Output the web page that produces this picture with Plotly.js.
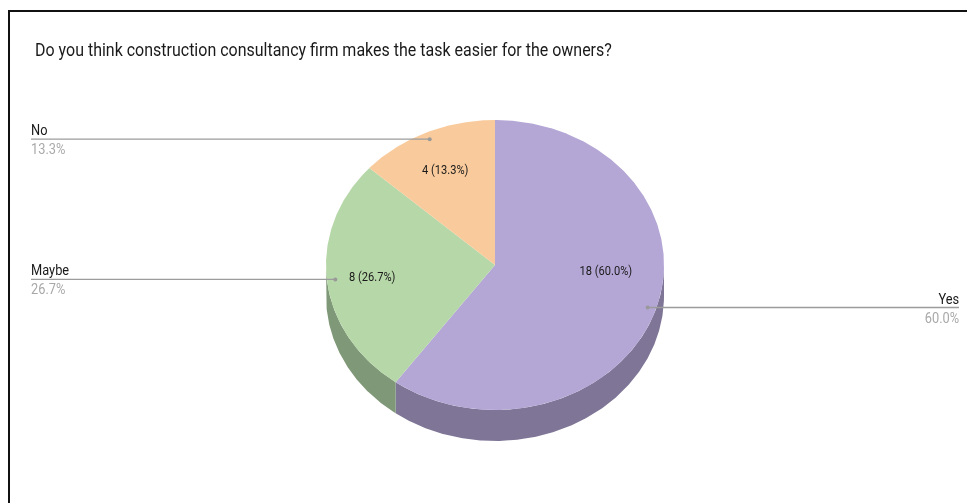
<!DOCTYPE html>
<html>
<head>
<meta charset="utf-8">
<script src="https://cdn.plot.ly/plotly-3.0.1.min.js"></script>
<style>html,body{margin:0;padding:0;background:#fff}#chart{width:967px;height:503px;filter:blur(0.35px)}</style>
</head>
<body>
<div id="chart"></div>
<script>
const categories = ["Yes", "Maybe", "No"];
const counts = [18, 8, 4];
const sliceColors = ["#b4a7d6", "#b6d7a8", "#f9cb9c"];
const sideColors = ["#7f7596", "#7f9877", "#ae8e6d"];
const titleText = "Do you think construction consultancy firm makes the task easier for the owners?";

// pie geometry, in axis units (the axes span the page)
const cx = 495, cy = 265, rx = 169, ry = 145, depth = 31;
const fontFam = "Roboto, sans-serif";
const total = counts.reduce((a, b) => a + b, 0);
const pct = v => (v / total * 100).toFixed(1) + "%";

const px = (a, r = 1) => cx + rx * r * Math.sin(a);
const py = (a, r = 1, dy = 0) => cy - ry * r * Math.cos(a) + dy;
function arc(a0, a1) {
  const n = Math.max(2, Math.ceil(Math.abs(a1 - a0) / (Math.PI / 360)));
  const out = [];
  for (let i = 0; i <= n; i++) out.push(a0 + (a1 - a0) * i / n);
  return out;
}

let start = 0;
const slices = counts.map((v, i) => {
  const a0 = start, a1 = start + v / total * 2 * Math.PI;
  start = a1;
  return { i, a0, a1, mid: (a0 + a1) / 2 };
});

const traces = [];
// visible side walls (front half of the rim)
slices.forEach(s => {
  const lo = Math.max(s.a0, Math.PI / 2), hi = Math.min(s.a1, 1.5 * Math.PI);
  if (hi <= lo) return;
  const top = arc(lo, hi), bot = arc(hi, lo);
  traces.push({
    type: "scatter", mode: "lines", fill: "toself", fillcolor: sideColors[s.i],
    line: { width: 0, color: sideColors[s.i] }, hoverinfo: "skip", showlegend: false,
    x: top.map(a => px(a)).concat(bot.map(a => px(a))),
    y: top.map(a => py(a)).concat(bot.map(a => py(a, 1, depth)))
  });
});
// top faces
slices.forEach(s => {
  const t = arc(s.a0, s.a1);
  traces.push({
    type: "scatter", mode: "lines", fill: "toself", fillcolor: sliceColors[s.i],
    line: { width: 0, color: sliceColors[s.i] }, name: categories[s.i],
    text: counts[s.i] + " (" + pct(counts[s.i]) + ")", hoverinfo: "name+text", showlegend: false,
    x: [cx].concat(t.map(a => px(a)), [cx]),
    y: [cy].concat(t.map(a => py(a)), [cy])
  });
});

// leader lines: from the slice out to the margin
const leaderEndX = [959, 31, 31];
slices.forEach(s => {
  const x0 = px(s.mid, 0.95), y0 = py(s.mid, 0.95);
  traces.push({
    type: "scatter", mode: "lines", line: { color: "#9c9c9c", width: 1.4 },
    hoverinfo: "skip", showlegend: false,
    x: [x0, leaderEndX[s.i]], y: [y0, y0]
  });
  traces.push({
    type: "scatter", mode: "markers", marker: { color: "#999999", size: 4 },
    hoverinfo: "skip", showlegend: false, x: [x0], y: [y0]
  });
});

const dataLabelX = [606, 372, 445], dataLabelY = [270, 276, 169];
const annotations = [];
slices.forEach(s => {
  const y0 = py(s.mid, 0.95), right = s.i === 0, lx = leaderEndX[s.i];
  annotations.push({
    x: dataLabelX[s.i], y: dataLabelY[s.i], xref: "x", yref: "y", showarrow: false,
    text: counts[s.i] + " (" + pct(counts[s.i]) + ")",
    font: { family: fontFam, size: 13, color: "#1a1a1a" }
  });
  annotations.push({
    x: lx, y: y0 - 9, xref: "x", yref: "y", showarrow: false, xanchor: right ? "right" : "left",
    borderpad: 0, borderwidth: 0, text: categories[s.i],
    font: { family: fontFam, size: 15, color: "#1a1a1a" }
  });
  annotations.push({
    x: lx, y: y0 + 10, xref: "x", yref: "y", showarrow: false, xanchor: right ? "right" : "left",
    borderpad: 0, borderwidth: 0, text: pct(counts[s.i]),
    font: { family: fontFam, size: 15, color: "#a8a8a8" }
  });
});

const layout = {
  width: 967, height: 503,
  margin: { l: 0, r: 0, t: 0, b: 0 },
  paper_bgcolor: "#ffffff", plot_bgcolor: "#ffffff",
  showlegend: false,
  title: {
    text: titleText, x: 35 / 967, xanchor: "left", xref: "paper",
    y: 1 - 50 / 503, yanchor: "middle", yref: "paper",
    font: { family: fontFam, size: 18.5, color: "#1a1a1a" }
  },
  xaxis: { range: [0, 967], visible: false, fixedrange: true },
  yaxis: { range: [503, 0], visible: false, fixedrange: true },
  annotations,
  shapes: [
    { type: "line", xref: "x", yref: "y", x0: 9, x1: 967, y0: 11, y1: 11, line: { color: "#111111", width: 2 } },
    { type: "line", xref: "x", yref: "y", x0: 9, x1: 9, y0: 10, y1: 503, line: { color: "#111111", width: 2 } }
  ]
};

// The reference's type is a condensed cut: squeeze the drawn text horizontally about its anchor.
function condense(el, k, side) {
  const b = el.getBBox();
  const ax = side === "left" ? b.x : side === "right" ? b.x + b.width : b.x + b.width / 2;
  el.setAttribute("transform", `translate(${ax} 0) scale(${k} 1) translate(${-ax} 0)`);
}

Plotly.newPlot("chart", traces, layout, { displayModeBar: false, responsive: false }).then(gd => {
  const t = gd.querySelector(".gtitle");
  if (t) condense(t, 0.865, "left");
  gd.querySelectorAll(".annotation-text").forEach((el, i) => {
    const kind = i % 3; // 0: data label, 1: name, 2: percent
    const sl = Math.floor(i / 3);
    condense(el, 0.855, kind === 0 ? "mid" : sl === 0 ? "right" : "left");
  });
});
</script>
</body>
</html>
